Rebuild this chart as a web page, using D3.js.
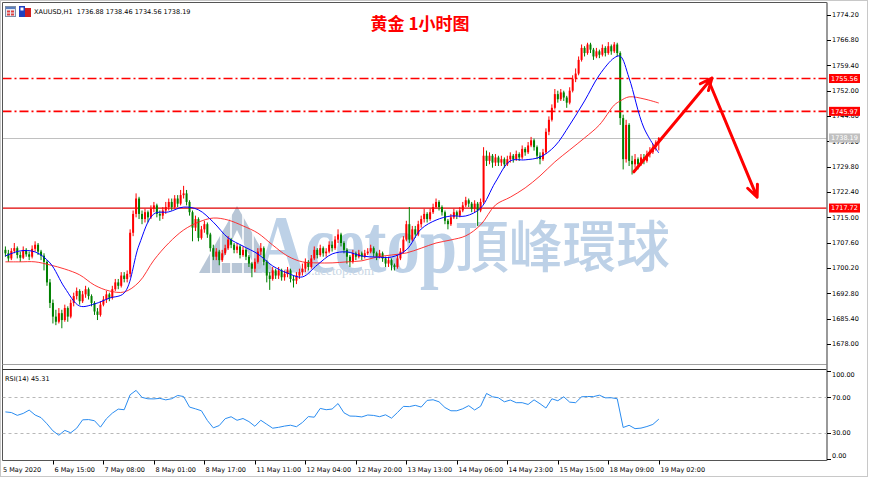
<!DOCTYPE html>
<html><head><meta charset="utf-8">
<script src="https://cdn.jsdelivr.net/npm/d3@7"></script>
<style>
html,body{margin:0;padding:0;background:#fff;}
svg{display:block;}
</style></head><body>
<svg id="c" width="870" height="478"></svg>
<script>
// ---------------- DATA ----------------
const symbolInfo = "XAUUSD,H1  1736.88 1738.46 1734.56 1738.19";
const chartTitle = "黄金 1小时图";
const firstOpen = 1705.5;
const closes = [
1704.5,1703.0,1705.2,1706.0,1704.0,1703.2,1705.5,1704.2,1703.5,1705.8,
1707.0,1705.0,1703.8,1702.0,1696.0,1690.0,1686.0,1684.5,1687.0,1685.0,
1688.5,1686.0,1690.0,1692.0,1693.5,1690.5,1692.5,1694.0,1692.0,1690.0,
1687.5,1686.5,1689.5,1691.0,1692.5,1691.5,1694.0,1696.0,1695.0,1698.0,
1697.0,1698.5,1710.5,1716.0,1720.5,1716.0,1714.5,1716.5,1715.0,1717.5,
1718.5,1716.0,1715.5,1717.0,1718.0,1719.5,1718.0,1720.5,1719.0,1721.5,
1722.0,1719.5,1716.5,1712.0,1714.5,1709.0,1711.5,1713.0,1710.0,1706.0,
1703.5,1705.0,1702.5,1704.5,1706.0,1708.5,1707.0,1705.5,1706.5,1704.0,
1705.5,1703.5,1701.5,1700.0,1702.0,1705.0,1706.0,1702.0,1698.0,1697.0,
1699.5,1698.0,1699.5,1697.5,1698.5,1699.5,1697.0,1696.5,1698.0,1699.0,
1700.0,1702.0,1700.5,1703.0,1705.5,1704.0,1706.0,1704.5,1705.0,1707.0,
1706.0,1708.5,1710.0,1707.5,1705.5,1703.5,1702.0,1704.5,1703.5,1704.5,
1703.5,1704.5,1705.0,1706.0,1704.5,1703.5,1704.5,1703.0,1701.5,1702.5,
1701.0,1700.5,1703.0,1705.0,1708.5,1713.0,1708.5,1711.5,1710.0,1713.0,
1714.5,1716.0,1714.5,1716.5,1718.0,1719.5,1718.0,1716.5,1714.0,1713.0,
1715.0,1716.5,1715.5,1717.0,1718.5,1720.0,1719.0,1717.5,1719.0,1717.0,
1719.5,1733.0,1731.5,1733.0,1731.0,1732.5,1731.0,1732.0,1730.5,1732.0,
1733.0,1732.0,1733.5,1732.5,1735.0,1734.0,1736.0,1737.5,1735.5,1733.0,
1732.0,1734.0,1740.0,1743.5,1747.0,1751.0,1749.5,1751.5,1750.0,1748.5,
1752.0,1755.5,1757.0,1761.0,1764.5,1763.0,1765.5,1764.0,1762.0,1763.5,
1762.5,1764.5,1763.0,1765.0,1763.5,1765.5,1763.0,1744.0,1732.0,1742.0,
1731.5,1730.5,1732.0,1730.5,1732.5,1731.5,1733.5,1734.0,1735.5,1736.88,
1738.19];
const highs = [
1706.5,1705.5,1706.0,1707.5,1706.5,1705.0,1706.5,1706.0,1705.0,1706.8,
1708.0,1707.5,1705.5,1704.5,1702.5,1697.0,1691.0,1688.0,1688.5,1688.0,
1689.5,1689.0,1691.0,1693.0,1694.5,1694.0,1693.5,1695.0,1694.5,1692.5,
1690.5,1688.5,1690.5,1692.0,1693.5,1693.0,1695.0,1697.0,1697.0,1699.0,
1699.0,1699.5,1711.5,1717.0,1722.0,1721.0,1717.0,1717.5,1717.0,1718.5,
1719.5,1719.0,1717.0,1718.0,1719.5,1720.5,1720.5,1721.5,1721.5,1723.0,
1724.2,1723.0,1720.0,1717.0,1715.5,1715.0,1712.5,1714.0,1713.5,1710.5,
1707.0,1706.0,1705.5,1705.5,1707.0,1709.5,1709.0,1707.5,1707.5,1707.0,
1706.5,1706.0,1704.0,1702.0,1703.0,1706.0,1707.5,1706.5,1702.5,1699.0,
1700.5,1700.0,1700.5,1700.0,1699.5,1700.5,1700.0,1698.0,1699.0,1700.0,
1701.5,1703.0,1702.5,1704.0,1706.5,1706.0,1707.0,1706.5,1706.0,1708.0,
1708.0,1709.5,1711.5,1710.5,1708.0,1706.0,1704.0,1705.5,1705.0,1705.5,
1705.0,1705.5,1706.0,1707.0,1706.5,1705.0,1705.5,1705.0,1703.5,1703.5,
1703.0,1701.5,1704.0,1706.0,1709.5,1714.0,1718.0,1712.5,1712.5,1714.0,
1715.5,1717.5,1716.5,1717.5,1719.0,1720.5,1720.0,1718.5,1717.0,1714.5,
1716.0,1717.5,1717.0,1718.0,1719.5,1721.0,1720.5,1719.5,1720.0,1719.5,
1720.5,1735.5,1734.5,1734.0,1733.5,1733.5,1733.0,1733.0,1732.5,1733.0,
1734.0,1733.5,1734.5,1734.0,1736.0,1735.5,1737.0,1738.5,1738.0,1736.0,
1734.0,1735.0,1741.0,1744.5,1748.0,1752.5,1752.0,1752.5,1752.0,1750.5,
1753.0,1756.5,1758.5,1762.0,1765.5,1765.0,1766.0,1766.0,1764.5,1764.5,
1764.0,1765.5,1765.0,1766.2,1765.5,1766.2,1766.0,1763.5,1745.0,1743.5,
1742.5,1733.0,1733.5,1732.5,1733.5,1733.5,1734.5,1735.5,1736.5,1737.5,
1738.46];
const lows = [
1703.5,1702.0,1702.5,1704.5,1703.0,1702.0,1702.8,1703.5,1702.5,1703.0,
1705.0,1704.0,1702.5,1699.5,1695.0,1688.5,1684.0,1683.5,1684.0,1682.6,
1684.5,1684.5,1685.5,1689.0,1691.0,1689.5,1690.0,1691.5,1691.0,1689.0,
1686.5,1685.0,1686.0,1689.0,1690.0,1690.5,1691.0,1693.5,1694.0,1694.5,
1696.0,1696.0,1697.5,1709.5,1715.0,1714.5,1713.0,1713.5,1713.5,1714.5,
1716.5,1715.0,1714.0,1714.5,1716.0,1717.0,1717.0,1717.5,1718.0,1718.5,
1720.5,1718.5,1715.5,1708.0,1711.0,1708.0,1708.5,1710.5,1709.0,1705.0,
1702.5,1702.5,1701.0,1702.0,1704.0,1705.5,1706.0,1704.5,1704.5,1703.0,
1703.5,1702.5,1700.5,1697.5,1699.0,1701.5,1704.0,1701.0,1696.0,1693.8,
1696.5,1697.0,1697.0,1696.5,1696.5,1697.5,1696.0,1694.5,1695.5,1697.0,
1698.0,1699.0,1699.5,1700.0,1702.5,1703.0,1703.5,1703.5,1703.5,1704.5,
1705.0,1705.5,1707.5,1706.5,1704.5,1701.5,1700.5,1701.5,1702.5,1703.0,
1702.5,1703.0,1704.0,1704.5,1703.5,1702.5,1703.0,1702.0,1700.5,1700.5,
1699.5,1699.5,1700.0,1702.5,1704.5,1708.0,1707.5,1708.0,1709.0,1709.5,
1712.0,1713.5,1713.5,1714.0,1716.0,1717.5,1717.0,1715.5,1713.0,1711.5,
1712.5,1714.5,1714.5,1715.0,1716.5,1718.0,1718.0,1716.5,1716.5,1712.5,
1716.5,1719.0,1730.0,1730.5,1729.5,1730.0,1730.0,1730.0,1729.5,1730.0,
1731.0,1731.0,1731.5,1731.5,1732.0,1733.0,1733.5,1735.5,1734.5,1732.0,
1730.5,1731.5,1733.5,1739.0,1743.0,1746.5,1748.5,1749.0,1749.0,1747.0,
1748.0,1751.5,1754.5,1756.5,1760.5,1762.0,1762.5,1763.0,1761.0,1761.5,
1761.5,1762.0,1762.0,1762.5,1762.5,1763.0,1762.0,1742.0,1729.0,1731.0,
1730.0,1727.5,1729.5,1729.0,1730.0,1730.5,1731.0,1732.5,1733.5,1734.5,
1734.56];

// moving averages, read at these bar indices
const maIdx = [0,5,10,15,20,25,30,35,40,45,50,55,60,65,70,75,80,85,90,95,100,105,110,115,120,125,130,135,140,145,150,155,160,165,170,175,180,185,190,195,200,205,207,210,215,220];
const blueMA = [1703.7,1705.2,1704.9,1701.7,1694.4,1689.1,1689.7,1691.4,1692.9,1706.9,1716.0,1716.6,1718.0,1717.2,1713.6,1709.0,1706.6,1704.3,1700.8,1698.7,1697.6,1701.1,1704.3,1704.9,1703.7,1703.4,1703.4,1705.5,1711.6,1714.2,1715.4,1715.4,1717.7,1725.3,1731.5,1731.8,1732.6,1735.8,1742.0,1749.0,1756.6,1761.6,1762.1,1755.7,1741.1,1733.8];
const redMA = [1702.0,1702.0,1702.0,1701.1,1699.9,1698.2,1695.2,1693.5,1693.2,1696.1,1702.5,1707.5,1711.3,1713.6,1714.8,1714.2,1712.5,1710.4,1706.9,1703.7,1702.0,1701.7,1701.7,1702.0,1702.3,1703.4,1704.0,1704.6,1706.0,1707.5,1708.4,1709.6,1712.8,1718.6,1720.9,1723.6,1727.1,1731.2,1734.7,1738.2,1742.0,1747.8,1749.0,1750.2,1749.6,1748.4];

// RSI(14), every 2nd bar
const rsiStep = 2;
const rsiVals = [
53.5,52.8,49.6,51.8,55.6,50,47,40,32,27,
32.5,29.8,35,44.5,44.8,43.5,36.2,45.7,52.1,56.7,
56,73,78,70,68.4,68.3,68.9,67.2,68.5,72.2,
71,59,57,54.8,43.8,35.4,38,45.8,48,44,
46,42.5,37.2,44,39.5,35,36,37.4,38.4,36.7,
41.5,48.2,47.5,57.5,56,56.8,63,52.5,48.8,48.6,
47.8,50,49.5,48.1,50.2,46.4,52.8,59.8,59.5,61,
59,66.6,67.3,65,58.5,54.8,54.8,57.1,60.6,55.7,
60,74.5,70.7,69.6,65,67,64,64,62,67.2,
62.8,57.9,68.4,66.2,70.7,64.6,64,70.7,71,70.9,
72.5,69.5,69.6,68.5,35.8,38.3,34.5,35.1,36.9,39.3,
45.3];
const rsiLabel = "RSI(14) 45.31";

const priceTicks = [1678.00,1685.40,1692.80,1700.20,1707.60,1715.00,1722.40,1729.80,1737.20,1744.60,1752.00,1759.40,1766.80,1774.20];
const rsiTicks = [100,70,30,0];
const rsiLevels = [70,30];
const timeLabels = ["5 May 2020","6 May 15:00","7 May 08:00","8 May 01:00","8 May 17:00","11 May 11:00","12 May 04:00","12 May 20:00","13 May 13:00","14 May 06:00","14 May 23:00","15 May 15:00","18 May 09:00","19 May 02:00"];
const timeIdx = [-1,16,33,50,67,84,101,118,135,152,169,186,203,220];

const dashLevels = [1755.56,1745.97];
const solidLevels = [1717.72];
const bidLevels = [1738.19];

const arrowFrom = [[211.6,1728.3],[236.9,1754.7]];
const arrowTo   = [[237.9,1755.7],[253.1,1720.9]];

// ---------------- DRAW ----------------
const svg = d3.select('#c');
const FONT = '"DejaVu Sans", "Liberation Sans", sans-serif';
const PL = 2.5, PR = 827, PT = 2.5, PB = 364, RT = 369.5, RB = 460.5;

const x = d3.scaleLinear().domain([0, 220]).range([5.4, 658.8]);
const y = d3.scaleLinear().domain([1672.45, 1777.62]).range([363, 3]);
const yr = d3.scaleLinear().domain([0, 100]).range([459, 371]);

const defs = svg.append('defs');
defs.append('clipPath').attr('id','mainClip').append('rect')
  .attr('x',PL).attr('y',PT).attr('width',PR-PL).attr('height',PB-PT);
defs.append('clipPath').attr('id','rsiClip').append('rect')
  .attr('x',PL).attr('y',RT).attr('width',PR-PL).attr('height',RB-RT);

// window frame
svg.append('rect').attr('x',0.5).attr('y',0.5).attr('width',867).attr('height',476)
  .attr('fill','#fff').attr('stroke','#c8c8c8');

const main = svg.append('g').attr('clip-path','url(#mainClip)');

// watermark
const wm = main.append('g').attr('class','watermark');
const wmCol = '#bdd1e7';
wm.append('path').attr('d','M237,206 L199,273 L275,273 Z').attr('fill','#b8c6d6');
wm.append('path').attr('d','M237,230 L221,263 L253,263 Z').attr('fill','#ffffff');
[211,221,231,243,253,263].forEach(px=>{
  wm.append('line').attr('x1',px).attr('x2',px).attr('y1',212).attr('y2',273)
    .attr('stroke','#ffffff').attr('stroke-width',1.6);
});
wm.append('text').attr('x',257).attr('y',272).text('Acetop')
  .attr('font-family','"Liberation Serif","DejaVu Serif",serif').attr('font-size',82)
  .attr('font-weight','bold')
  .attr('textLength',200).attr('lengthAdjust','spacingAndGlyphs').attr('fill',wmCol);
wm.append('text').attr('x',455).attr('y',267).text('頂峰環球')
  .attr('font-family','"Noto Sans CJK TC","Noto Sans CJK SC",sans-serif').attr('font-size',56)
  .attr('font-weight',500)
  .attr('textLength',215).attr('lengthAdjust','spacingAndGlyphs').attr('fill',wmCol);
wm.append('text').attr('x',284).attr('y',275).text('www.acetop.com')
  .attr('font-family','"Liberation Serif",serif').attr('font-size',13)
  .attr('fill','#c8d6e4');

// level lines
main.selectAll('line.bid').data(bidLevels).join('line').attr('class','bid')
  .attr('x1',PL).attr('x2',PR).attr('y1',d=>Math.round(y(d))+0.5).attr('y2',d=>Math.round(y(d))+0.5)
  .style('stroke','#c0c0c0').style('stroke-width',1);
main.selectAll('line.solid').data(solidLevels).join('line').attr('class','solid')
  .attr('x1',PL).attr('x2',PR).attr('y1',d=>y(d)).attr('y2',d=>y(d))
  .style('stroke','#e00000').style('stroke-width',1.3);

// candles
const bars = closes.map((c,i)=>({i, o: i===0 ? firstOpen : closes[i-1], h: highs[i], l: lows[i], c}));
const up = '#ff0000', dn = '#008000';
const cg = main.append('g');
cg.selectAll('line').data(bars).join('line')
  .attr('x1',d=>x(d.i)).attr('x2',d=>x(d.i))
  .attr('y1',d=>y(d.h)).attr('y2',d=>y(d.l))
  .attr('stroke',d=>d.c>=d.o?up:dn).attr('stroke-width',1);
cg.selectAll('rect').data(bars).join('rect')
  .attr('x',d=>x(d.i)-1).attr('width',2)
  .attr('y',d=>Math.min(y(d.o),y(d.c)))
  .attr('height',d=>Math.max(1,Math.abs(y(d.o)-y(d.c))))
  .attr('fill',d=>d.c>=d.o?up:dn);

// dash-dot levels
const dg = main.append('g');
dashLevels.forEach(v=>{
  const yy = y(v);
  dg.append('path').attr('d',`M${PL},${yy}H${PR}`)
    .style('fill','none').style('stroke','#ff0000').style('stroke-width',1.6)
    .style('stroke-dasharray','9,3,2,3');
});

// moving averages
const maLine = d3.line().x(d=>x(d[0])).y(d=>y(d[1])).curve(d3.curveCatmullRom.alpha(0.5));
main.append('path').datum(maIdx.map((k,j)=>[k,redMA[j]])).attr('d',maLine)
  .attr('fill','none').attr('stroke','#ff2020').attr('stroke-width',1).attr('opacity',0.9);
main.append('path').datum(maIdx.map((k,j)=>[k,blueMA[j]])).attr('d',maLine)
  .attr('fill','none').attr('stroke','#0000ff').attr('stroke-width',1);

// arrows
arrowFrom.forEach((f,j)=>{
  const t = arrowTo[j];
  const x0=x(f[0]), y0=y(f[1]), x1=x(t[0]), y1=y(t[1]);
  const a = Math.atan2(y1-y0, x1-x0), len=13, sp=0.42;
  const h1=[x1-len*Math.cos(a-sp), y1-len*Math.sin(a-sp)];
  const h2=[x1-len*Math.cos(a+sp), y1-len*Math.sin(a+sp)];
  main.append('path').attr('d',`M${x0},${y0}L${x1},${y1}M${h1[0]},${h1[1]}L${x1},${y1}L${h2[0]},${h2[1]}`)
    .attr('fill','none').attr('stroke','#ff0000').attr('stroke-width',3)
    .attr('stroke-linecap','round').attr('stroke-linejoin','round');
});

// title
svg.append('text').attr('x',420).attr('y',30).attr('text-anchor','middle').text(chartTitle)
  .attr('font-family','"Noto Sans CJK SC",sans-serif').attr('font-size',17).attr('font-weight','bold')
  .attr('fill','#ff0000');

// header: icons + symbol
const ic = svg.append('g');
ic.append('rect').attr('x',5.5).attr('y',6.5).attr('width',10).attr('height',10).attr('fill','#e8ecf4').attr('stroke','#8090a8');
ic.append('rect').attr('x',6).attr('y',7).attr('width',9).attr('height',2).attr('fill','#5a7fc0');
ic.append('rect').attr('x',7).attr('y',10.5).attr('width',3).attr('height',2).attr('fill','#e04040');
ic.append('rect').attr('x',11).attr('y',10.5).attr('width',3).attr('height',2).attr('fill','#e04040');
ic.append('rect').attr('x',7).attr('y',13.5).attr('width',3).attr('height',2).attr('fill','#e04040');
ic.append('rect').attr('x',11).attr('y',13.5).attr('width',3).attr('height',2).attr('fill','#e04040');
ic.append('rect').attr('x',19).attr('y',6).attr('width',6).attr('height',11).attr('fill','#2040c0');
ic.append('rect').attr('x',25).attr('y',8).attr('width',6).attr('height',9).attr('fill','#d02020');
ic.append('rect').attr('x',20.5).attr('y',7.5).attr('width',3).attr('height',3).attr('fill','#ffffff');
svg.append('text').attr('x',34).attr('y',13.5).text(symbolInfo)
  .attr('font-family',FONT).attr('font-size',6.5).attr('fill','#000').style('white-space','pre');

// panel borders
svg.append('line').attr('x1',PL).attr('x2',PR).attr('y1',PT).attr('y2',PT).attr('stroke','#555');
svg.append('line').attr('x1',PL).attr('x2',PL).attr('y1',PT).attr('y2',RB).attr('stroke','#555');
svg.append('line').attr('x1',PL).attr('x2',PR).attr('y1',PB+0.5).attr('y2',PB+0.5).attr('stroke','#a0a0a0');
svg.append('line').attr('x1',PL).attr('x2',PR).attr('y1',RT).attr('y2',RT).attr('stroke','#333');
svg.append('line').attr('x1',PL).attr('x2',PR).attr('y1',RB).attr('y2',RB).attr('stroke','#555');
svg.append('line').attr('x1',PR).attr('x2',PR).attr('y1',PT).attr('y2',RB).attr('stroke','#808080').attr('stroke-width',1.6);

// price axis
const pa = svg.append('g');
pa.selectAll('line').data(priceTicks).join('line')
  .attr('x1',PR).attr('x2',PR+4).attr('y1',d=>Math.round(y(d))+0.5).attr('y2',d=>Math.round(y(d))+0.5).attr('stroke','#000');
pa.selectAll('text').data(priceTicks).join('text')
  .attr('x',PR+5).attr('y',d=>y(d)+2.4).text(d=>d.toFixed(2))
  .attr('font-family',FONT).attr('font-size',6.5).attr('fill','#000');

// level labels on axis
function tag(v, bg){
  const g = svg.append('g');
  g.append('rect').attr('x',PR+2).attr('y',y(v)-4.5).attr('width',31).attr('height',9).attr('fill',bg);
  g.append('text').attr('x',PR+4).attr('y',y(v)+2.4).text(v.toFixed(2))
    .attr('font-family',FONT).attr('font-size',6.5).attr('fill','#fff');
}
dashLevels.forEach(v=>tag(v,'#ff0000'));
solidLevels.forEach(v=>tag(v,'#ff0000'));
bidLevels.forEach(v=>tag(v,'#c0c0c0'));

// RSI panel
const rg = svg.append('g').attr('clip-path','url(#rsiClip)');
rg.selectAll('line').data(rsiLevels).join('line')
  .attr('x1',PL).attr('x2',PR).attr('y1',d=>Math.round(yr(d))+0.5).attr('y2',d=>Math.round(yr(d))+0.5)
  .attr('stroke','#b8b8b8').attr('stroke-dasharray','3,3');
rg.append('path').datum(rsiVals.map((v,k)=>[k*rsiStep,v]))
  .attr('d',d3.line().x(d=>x(d[0])).y(d=>yr(d[1])))
  .attr('fill','none').attr('stroke','#2a8cf0').attr('stroke-width',1);
svg.append('text').attr('x',5).attr('y',380.5).text(rsiLabel)
  .attr('font-family',FONT).attr('font-size',6.5).attr('fill','#000');
const ra = svg.append('g');
ra.selectAll('line').data(rsiTicks).join('line')
  .attr('x1',PR).attr('x2',PR+4).attr('y1',d=>Math.round(yr(d))+0.5).attr('y2',d=>Math.round(yr(d))+0.5).attr('stroke','#000');
ra.selectAll('text').data(rsiTicks).join('text')
  .attr('x',PR+5).attr('y',d=>Math.min(458,Math.max(376.5,yr(d)+2.4))).text(d=>d.toFixed(2))
  .attr('font-family',FONT).attr('font-size',6.5).attr('fill','#000');

// time axis
const ta = svg.append('g');
ta.selectAll('line').data(timeIdx.slice(1)).join('line')
  .attr('x1',d=>Math.round(x(d))+0.5).attr('x2',d=>Math.round(x(d))+0.5)
  .attr('y1',RB).attr('y2',RB+4).attr('stroke','#000');
ta.selectAll('text').data(timeLabels).join('text')
  .attr('x',(d,k)=>k===0 ? PL+0.5 : Math.round(x(timeIdx[k]))+1.5).attr('y',471.5).text(d=>d)
  .attr('font-family',FONT).attr('font-size',6.5).attr('fill','#000');
</script>
</body></html>
